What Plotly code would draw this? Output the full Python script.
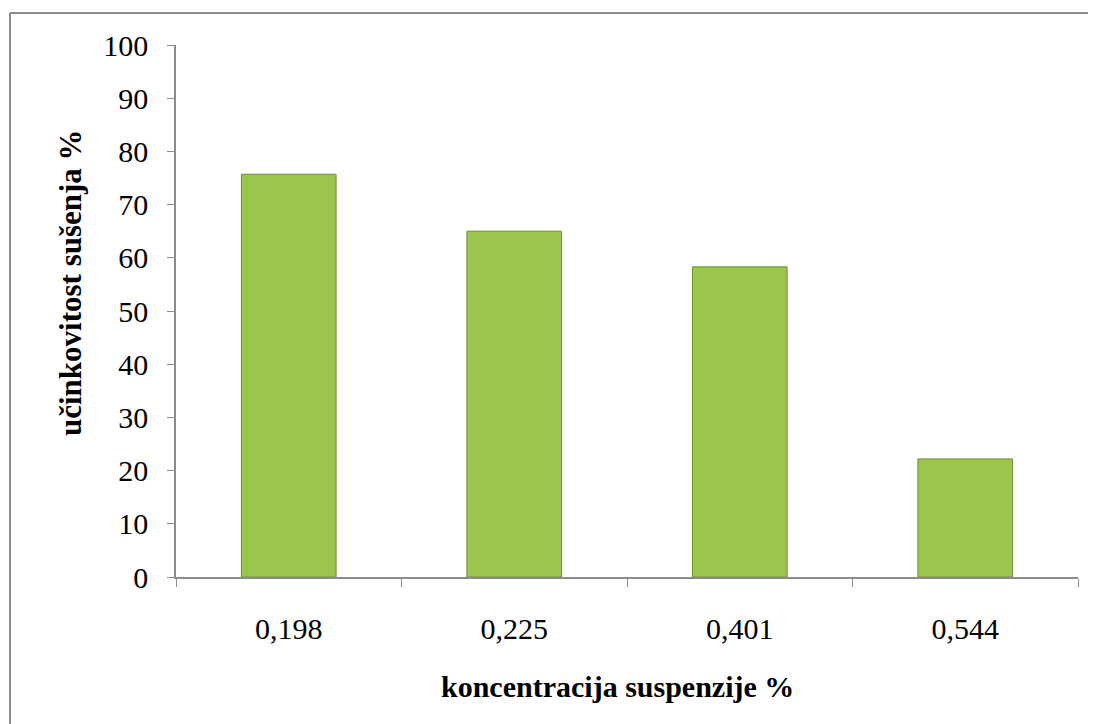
import plotly.graph_objects as go

categories = ["0,198", "0,225", "0,401", "0,544"]
values = [75.7, 65.0, 58.3, 22.2]
y_ticks = list(range(0, 101, 10))
x_title = "koncentracija suspenzije %"
y_title = "učinkovitost sušenja %"

W, H = 1096, 724
OFF = 8  # page offset of the figure
ML, MR, MT, MB = 168, 26, 37, 155
pw, ph = W - ML - MR, H - MT - MB

def px_x(p):
    return (p - OFF - ML) / pw

def px_y(p):
    return (H - MB - (p - OFF)) / ph

fig = go.Figure()
fig.add_trace(go.Bar(
    x=categories, y=values,
    marker=dict(color="#9BC54C", line=dict(color="#6F8F2E", width=1)),
    width=0.42,
))

font = "'Liberation Serif', 'Times New Roman', serif"
axis_col = "#8C8C8C"

fig.update_layout(
    width=W, height=H,
    margin=dict(l=ML, r=MR, t=MT, b=MB),
    plot_bgcolor="white", paper_bgcolor="white",
    showlegend=False,
    font=dict(family=font, color="black"),
    xaxis=dict(
        type="category",
        showline=True, linecolor=axis_col, linewidth=1.5,
        ticks="outside", tickson="boundaries", ticklen=8, tickcolor=axis_col,
        tickfont=dict(size=30, family=font),
        ticklabelstandoff=24,
        showgrid=False,
    ),
    yaxis=dict(
        range=[0, 100],
        tickvals=y_ticks,
        showline=True, linecolor=axis_col, linewidth=1.5,
        ticks="outside", ticklen=7, tickcolor=axis_col,
        tickfont=dict(size=30, family=font),
        ticklabelstandoff=13,
        showgrid=False, zeroline=False,
    ),
    annotations=[
        dict(text="<b>%s</b>" % x_title, xref="paper", yref="paper",
             x=px_x(617), y=px_y(686), xanchor="center", yanchor="middle",
             showarrow=False, font=dict(size=30, family=font)),
        dict(text="<b>%s</b>" % y_title, xref="paper", yref="paper",
             x=px_x(70), y=px_y(283), xanchor="center", yanchor="middle",
             textangle=-90, showarrow=False, font=dict(size=31, family=font)),
    ],
    shapes=[
        dict(type="line", xref="paper", yref="paper",
             x0=px_x(10), x1=px_x(10), y0=px_y(H + 20), y1=px_y(13),
             line=dict(color="#8C8C8C", width=2)),
        dict(type="line", xref="paper", yref="paper",
             x0=px_x(10), x1=px_x(W + 20), y0=px_y(13), y1=px_y(13),
             line=dict(color="#8C8C8C", width=2)),
    ],
)

fig.write_html("out.html")
